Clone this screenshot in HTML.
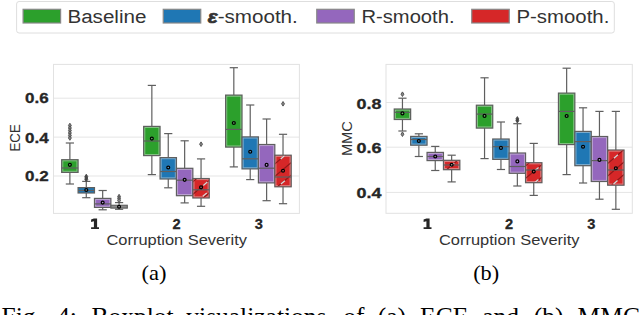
<!DOCTYPE html>
<html><head><meta charset="utf-8"><style>
html,body{margin:0;padding:0;background:#fff;width:640px;height:315px;overflow:hidden}
svg{display:block}
</style></head><body>
<svg width="640" height="315" viewBox="0 0 640 315">
<line x1="53.5" y1="98.2" x2="299.4" y2="98.2" stroke="#e5e5e5" stroke-width="1"/>
<line x1="53.5" y1="137.1" x2="299.4" y2="137.1" stroke="#e5e5e5" stroke-width="1"/>
<line x1="53.5" y1="176.0" x2="299.4" y2="176.0" stroke="#e5e5e5" stroke-width="1"/>
<rect x="53.5" y="64.4" width="245.89999999999998" height="149.0" fill="none" stroke="#e2e2e2" stroke-width="1"/>
<line x1="69.88" y1="143.0" x2="69.88" y2="159.7" stroke="#5f5f5f" stroke-width="1.2"/>
<line x1="69.88" y1="172.4" x2="69.88" y2="184.0" stroke="#5f5f5f" stroke-width="1.2"/>
<line x1="65.78" y1="143.0" x2="73.98" y2="143.0" stroke="#5f5f5f" stroke-width="1.2"/>
<line x1="65.78" y1="184.0" x2="73.98" y2="184.0" stroke="#5f5f5f" stroke-width="1.2"/>
<rect x="61.68" y="159.7" width="16.4" height="12.70" fill="#2ca02c" stroke="#5f5f5f" stroke-width="1.2"/>
<rect x="62.83" y="160.85" width="14.10" height="10.40" fill="none" stroke="#e8e8e8" stroke-opacity="0.5" stroke-width="0.9"/>
<line x1="61.68" y1="168.0" x2="78.08" y2="168.0" stroke="#5f5f5f" stroke-width="1.2"/>
<path d="M69.88 123.2 L71.33 125.5 L69.88 127.8 L68.43 125.5 Z" fill="#888" stroke="#4a4a4a" stroke-width="0.9"/>
<path d="M69.88 125.7 L71.33 128 L69.88 130.3 L68.43 128 Z" fill="#888" stroke="#4a4a4a" stroke-width="0.9"/>
<path d="M69.88 128.2 L71.33 130.5 L69.88 132.8 L68.43 130.5 Z" fill="#888" stroke="#4a4a4a" stroke-width="0.9"/>
<path d="M69.88 130.7 L71.33 133 L69.88 135.3 L68.43 133 Z" fill="#888" stroke="#4a4a4a" stroke-width="0.9"/>
<path d="M69.88 133.2 L71.33 135.5 L69.88 137.8 L68.43 135.5 Z" fill="#888" stroke="#4a4a4a" stroke-width="0.9"/>
<path d="M69.88 135.7 L71.33 138 L69.88 140.3 L68.43 138 Z" fill="#888" stroke="#4a4a4a" stroke-width="0.9"/>
<circle cx="69.88" cy="164.8" r="1.45" fill="#fff" fill-opacity="0.3" stroke="#000" stroke-width="1.25"/>
<line x1="86.28" y1="181.4" x2="86.28" y2="187.6" stroke="#5f5f5f" stroke-width="1.2"/>
<line x1="86.28" y1="193.0" x2="86.28" y2="197.7" stroke="#5f5f5f" stroke-width="1.2"/>
<line x1="82.18" y1="181.4" x2="90.38" y2="181.4" stroke="#5f5f5f" stroke-width="1.2"/>
<line x1="82.18" y1="197.7" x2="90.38" y2="197.7" stroke="#5f5f5f" stroke-width="1.2"/>
<rect x="78.08" y="187.6" width="16.4" height="5.40" fill="#1f77b4" stroke="#5f5f5f" stroke-width="1.2"/>
<line x1="78.08" y1="190.5" x2="94.48" y2="190.5" stroke="#5f5f5f" stroke-width="1.2"/>
<path d="M86.28 174.2 L87.73 176.5 L86.28 178.8 L84.83 176.5 Z" fill="#444" stroke="#4a4a4a" stroke-width="0.9"/>
<path d="M86.28 175.7 L87.73 178 L86.28 180.3 L84.83 178 Z" fill="#444" stroke="#4a4a4a" stroke-width="0.9"/>
<path d="M86.28 177.2 L87.73 179.5 L86.28 181.8 L84.83 179.5 Z" fill="#444" stroke="#4a4a4a" stroke-width="0.9"/>
<circle cx="86.28" cy="190.0" r="1.45" fill="#fff" fill-opacity="0.3" stroke="#000" stroke-width="1.25"/>
<line x1="102.68" y1="190.5" x2="102.68" y2="198.4" stroke="#5f5f5f" stroke-width="1.2"/>
<line x1="102.68" y1="207.4" x2="102.68" y2="209.8" stroke="#5f5f5f" stroke-width="1.2"/>
<line x1="98.58" y1="190.5" x2="106.78" y2="190.5" stroke="#5f5f5f" stroke-width="1.2"/>
<line x1="98.58" y1="209.8" x2="106.78" y2="209.8" stroke="#5f5f5f" stroke-width="1.2"/>
<rect x="94.48" y="198.4" width="16.4" height="9.00" fill="#9467bd" stroke="#5f5f5f" stroke-width="1.2"/>
<rect x="95.63" y="199.55" width="14.10" height="6.70" fill="none" stroke="#e8e8e8" stroke-opacity="0.5" stroke-width="0.9"/>
<line x1="94.48" y1="203.9" x2="110.88" y2="203.9" stroke="#5f5f5f" stroke-width="1.2"/>
<circle cx="102.68" cy="202.6" r="1.45" fill="#fff" fill-opacity="0.3" stroke="#000" stroke-width="1.25"/>
<line x1="119.08" y1="202.6" x2="119.08" y2="205.3" stroke="#5f5f5f" stroke-width="1.2"/>
<line x1="119.08" y1="208.1" x2="119.08" y2="209.3" stroke="#5f5f5f" stroke-width="1.2"/>
<line x1="114.98" y1="202.6" x2="123.18" y2="202.6" stroke="#5f5f5f" stroke-width="1.2"/>
<line x1="114.98" y1="209.3" x2="123.18" y2="209.3" stroke="#5f5f5f" stroke-width="1.2"/>
<rect x="110.88" y="205.3" width="16.4" height="2.80" fill="#d0d0d0" stroke="#5f5f5f" stroke-width="1.2"/>
<line x1="110.88" y1="207.0" x2="127.28" y2="207.0" stroke="#5f5f5f" stroke-width="1.2"/>
<path d="M119.08 194.29999999999998 L120.53 196.6 L119.08 198.9 L117.63 196.6 Z" fill="#888" stroke="#4a4a4a" stroke-width="0.9"/>
<path d="M119.08 196.2 L120.53 198.5 L119.08 200.8 L117.63 198.5 Z" fill="#888" stroke="#4a4a4a" stroke-width="0.9"/>
<path d="M119.08 198.2 L120.53 200.5 L119.08 202.8 L117.63 200.5 Z" fill="#888" stroke="#4a4a4a" stroke-width="0.9"/>
<circle cx="119.08" cy="206.7" r="1.45" fill="#fff" fill-opacity="0.3" stroke="#000" stroke-width="1.25"/>
<line x1="151.85" y1="85.4" x2="151.85" y2="126.4" stroke="#5f5f5f" stroke-width="1.2"/>
<line x1="151.85" y1="155.6" x2="151.85" y2="174.6" stroke="#5f5f5f" stroke-width="1.2"/>
<line x1="147.75" y1="85.4" x2="155.95" y2="85.4" stroke="#5f5f5f" stroke-width="1.2"/>
<line x1="147.75" y1="174.6" x2="155.95" y2="174.6" stroke="#5f5f5f" stroke-width="1.2"/>
<rect x="143.65" y="126.4" width="16.4" height="29.20" fill="#2ca02c" stroke="#5f5f5f" stroke-width="1.2"/>
<rect x="144.80" y="127.55" width="14.10" height="26.90" fill="none" stroke="#e8e8e8" stroke-opacity="0.5" stroke-width="0.9"/>
<line x1="143.65" y1="141.0" x2="160.05" y2="141.0" stroke="#5f5f5f" stroke-width="1.2"/>
<circle cx="151.85" cy="138.6" r="1.45" fill="#fff" fill-opacity="0.3" stroke="#000" stroke-width="1.25"/>
<line x1="168.25" y1="133.6" x2="168.25" y2="157.6" stroke="#5f5f5f" stroke-width="1.2"/>
<line x1="168.25" y1="179.0" x2="168.25" y2="187.8" stroke="#5f5f5f" stroke-width="1.2"/>
<line x1="164.15" y1="133.6" x2="172.35" y2="133.6" stroke="#5f5f5f" stroke-width="1.2"/>
<line x1="164.15" y1="187.8" x2="172.35" y2="187.8" stroke="#5f5f5f" stroke-width="1.2"/>
<rect x="160.05" y="157.6" width="16.4" height="21.40" fill="#1f77b4" stroke="#5f5f5f" stroke-width="1.2"/>
<rect x="161.20" y="158.75" width="14.10" height="19.10" fill="none" stroke="#e8e8e8" stroke-opacity="0.5" stroke-width="0.9"/>
<line x1="160.05" y1="171.5" x2="176.45" y2="171.5" stroke="#5f5f5f" stroke-width="1.2"/>
<circle cx="168.25" cy="167.5" r="1.45" fill="#fff" fill-opacity="0.3" stroke="#000" stroke-width="1.25"/>
<line x1="184.65" y1="140.8" x2="184.65" y2="168.3" stroke="#5f5f5f" stroke-width="1.2"/>
<line x1="184.65" y1="195.7" x2="184.65" y2="202.9" stroke="#5f5f5f" stroke-width="1.2"/>
<line x1="180.55" y1="140.8" x2="188.75" y2="140.8" stroke="#5f5f5f" stroke-width="1.2"/>
<line x1="180.55" y1="202.9" x2="188.75" y2="202.9" stroke="#5f5f5f" stroke-width="1.2"/>
<rect x="176.45" y="168.3" width="16.4" height="27.40" fill="#9467bd" stroke="#5f5f5f" stroke-width="1.2"/>
<rect x="177.60" y="169.45" width="14.10" height="25.10" fill="none" stroke="#e8e8e8" stroke-opacity="0.5" stroke-width="0.9"/>
<line x1="176.45" y1="180.2" x2="192.85" y2="180.2" stroke="#5f5f5f" stroke-width="1.2"/>
<circle cx="184.65" cy="179.8" r="1.45" fill="#fff" fill-opacity="0.3" stroke="#000" stroke-width="1.25"/>
<line x1="201.05" y1="158.9" x2="201.05" y2="178.5" stroke="#5f5f5f" stroke-width="1.2"/>
<line x1="201.05" y1="198.0" x2="201.05" y2="206.3" stroke="#5f5f5f" stroke-width="1.2"/>
<line x1="196.95" y1="158.9" x2="205.15" y2="158.9" stroke="#5f5f5f" stroke-width="1.2"/>
<line x1="196.95" y1="206.3" x2="205.15" y2="206.3" stroke="#5f5f5f" stroke-width="1.2"/>
<rect x="192.85" y="178.5" width="16.4" height="19.50" fill="#d62728" stroke="#5f5f5f" stroke-width="1.2"/>
<rect x="194.00" y="179.65" width="14.10" height="17.20" fill="none" stroke="#e8e8e8" stroke-opacity="0.5" stroke-width="0.9"/>
<clipPath id="c53_2"><rect x="193.45" y="179.10" width="15.20" height="18.30"/></clipPath>
<g clip-path="url(#c53_2)">
<line x1="190.85" y1="120.98" x2="211.25" y2="103.64" stroke="#8e1819" stroke-width="1.15"/>
<line x1="190.85" y1="133.48" x2="211.25" y2="116.14" stroke="#8e1819" stroke-width="1.15"/>
<line x1="190.85" y1="145.98" x2="211.25" y2="128.64" stroke="#8e1819" stroke-width="1.15"/>
<line x1="190.85" y1="158.48" x2="211.25" y2="141.14" stroke="#8e1819" stroke-width="1.15"/>
<line x1="190.85" y1="170.98" x2="211.25" y2="153.64" stroke="#8e1819" stroke-width="1.15"/>
<line x1="190.85" y1="183.48" x2="211.25" y2="166.14" stroke="#8e1819" stroke-width="1.15"/>
<line x1="190.85" y1="195.98" x2="211.25" y2="178.64" stroke="#8e1819" stroke-width="1.15"/>
<line x1="190.85" y1="208.48" x2="211.25" y2="191.14" stroke="#8e1819" stroke-width="1.15"/>
<line x1="190.85" y1="220.98" x2="211.25" y2="203.64" stroke="#8e1819" stroke-width="1.15"/>
<line x1="190.85" y1="233.48" x2="211.25" y2="216.14" stroke="#8e1819" stroke-width="1.15"/>
<line x1="190.85" y1="245.98" x2="211.25" y2="228.64" stroke="#8e1819" stroke-width="1.15"/>
<line x1="190.85" y1="258.48" x2="211.25" y2="241.14" stroke="#8e1819" stroke-width="1.15"/>
<line x1="203.30" y1="185.40" x2="207.30" y2="182.00" stroke="#d8d8d8" stroke-width="1.3"/>
<line x1="202.80" y1="196.30" x2="206.80" y2="192.90" stroke="#d8d8d8" stroke-width="1.3"/>
</g>
<line x1="192.85" y1="189.8" x2="209.25" y2="189.8" stroke="#5f5f5f" stroke-width="1.2"/>
<path d="M201.05 141.89999999999998 L202.50 144.2 L201.05 146.5 L199.60 144.2 Z" fill="#888" stroke="#4a4a4a" stroke-width="0.9"/>
<circle cx="201.05" cy="187.3" r="1.45" fill="#fff" fill-opacity="0.3" stroke="#000" stroke-width="1.25"/>
<line x1="233.82" y1="67.7" x2="233.82" y2="95.1" stroke="#5f5f5f" stroke-width="1.2"/>
<line x1="233.82" y1="147.1" x2="233.82" y2="166.9" stroke="#5f5f5f" stroke-width="1.2"/>
<line x1="229.72" y1="67.7" x2="237.92" y2="67.7" stroke="#5f5f5f" stroke-width="1.2"/>
<line x1="229.72" y1="166.9" x2="237.92" y2="166.9" stroke="#5f5f5f" stroke-width="1.2"/>
<rect x="225.62" y="95.1" width="16.4" height="52.00" fill="#2ca02c" stroke="#5f5f5f" stroke-width="1.2"/>
<rect x="226.77" y="96.25" width="14.10" height="49.70" fill="none" stroke="#e8e8e8" stroke-opacity="0.5" stroke-width="0.9"/>
<line x1="225.62" y1="129.4" x2="242.02" y2="129.4" stroke="#5f5f5f" stroke-width="1.2"/>
<circle cx="233.82" cy="123.0" r="1.45" fill="#fff" fill-opacity="0.3" stroke="#000" stroke-width="1.25"/>
<line x1="250.22" y1="105.0" x2="250.22" y2="136.9" stroke="#5f5f5f" stroke-width="1.2"/>
<line x1="250.22" y1="168.9" x2="250.22" y2="179.6" stroke="#5f5f5f" stroke-width="1.2"/>
<line x1="246.12" y1="105.0" x2="254.32" y2="105.0" stroke="#5f5f5f" stroke-width="1.2"/>
<line x1="246.12" y1="179.6" x2="254.32" y2="179.6" stroke="#5f5f5f" stroke-width="1.2"/>
<rect x="242.02" y="136.9" width="16.4" height="32.00" fill="#1f77b4" stroke="#5f5f5f" stroke-width="1.2"/>
<rect x="243.17" y="138.05" width="14.10" height="29.70" fill="none" stroke="#e8e8e8" stroke-opacity="0.5" stroke-width="0.9"/>
<line x1="242.02" y1="158.8" x2="258.42" y2="158.8" stroke="#5f5f5f" stroke-width="1.2"/>
<circle cx="250.22" cy="151.7" r="1.45" fill="#fff" fill-opacity="0.3" stroke="#000" stroke-width="1.25"/>
<line x1="266.62" y1="119.0" x2="266.62" y2="144.5" stroke="#5f5f5f" stroke-width="1.2"/>
<line x1="266.62" y1="182.9" x2="266.62" y2="200.7" stroke="#5f5f5f" stroke-width="1.2"/>
<line x1="262.52" y1="119.0" x2="270.72" y2="119.0" stroke="#5f5f5f" stroke-width="1.2"/>
<line x1="262.52" y1="200.7" x2="270.72" y2="200.7" stroke="#5f5f5f" stroke-width="1.2"/>
<rect x="258.42" y="144.5" width="16.4" height="38.40" fill="#9467bd" stroke="#5f5f5f" stroke-width="1.2"/>
<rect x="259.57" y="145.65" width="14.10" height="36.10" fill="none" stroke="#e8e8e8" stroke-opacity="0.5" stroke-width="0.9"/>
<line x1="258.42" y1="168.2" x2="274.82" y2="168.2" stroke="#5f5f5f" stroke-width="1.2"/>
<circle cx="266.62" cy="164.9" r="1.45" fill="#fff" fill-opacity="0.3" stroke="#000" stroke-width="1.25"/>
<line x1="283.02" y1="134.3" x2="283.02" y2="155.2" stroke="#5f5f5f" stroke-width="1.2"/>
<line x1="283.02" y1="186.8" x2="283.02" y2="203.7" stroke="#5f5f5f" stroke-width="1.2"/>
<line x1="278.92" y1="134.3" x2="287.12" y2="134.3" stroke="#5f5f5f" stroke-width="1.2"/>
<line x1="278.92" y1="203.7" x2="287.12" y2="203.7" stroke="#5f5f5f" stroke-width="1.2"/>
<rect x="274.82" y="155.2" width="16.4" height="31.60" fill="#d62728" stroke="#5f5f5f" stroke-width="1.2"/>
<rect x="275.97" y="156.35" width="14.10" height="29.30" fill="none" stroke="#e8e8e8" stroke-opacity="0.5" stroke-width="0.9"/>
<clipPath id="c53_3"><rect x="275.42" y="155.80" width="15.20" height="30.40"/></clipPath>
<g clip-path="url(#c53_3)">
<line x1="272.82" y1="90.60" x2="293.22" y2="73.26" stroke="#8e1819" stroke-width="1.15"/>
<line x1="272.82" y1="103.10" x2="293.22" y2="85.76" stroke="#8e1819" stroke-width="1.15"/>
<line x1="272.82" y1="115.60" x2="293.22" y2="98.26" stroke="#8e1819" stroke-width="1.15"/>
<line x1="272.82" y1="128.10" x2="293.22" y2="110.76" stroke="#8e1819" stroke-width="1.15"/>
<line x1="272.82" y1="140.60" x2="293.22" y2="123.26" stroke="#8e1819" stroke-width="1.15"/>
<line x1="272.82" y1="153.10" x2="293.22" y2="135.76" stroke="#8e1819" stroke-width="1.15"/>
<line x1="272.82" y1="165.60" x2="293.22" y2="148.26" stroke="#8e1819" stroke-width="1.15"/>
<line x1="272.82" y1="178.10" x2="293.22" y2="160.76" stroke="#8e1819" stroke-width="1.15"/>
<line x1="272.82" y1="190.60" x2="293.22" y2="173.26" stroke="#8e1819" stroke-width="1.15"/>
<line x1="272.82" y1="203.10" x2="293.22" y2="185.76" stroke="#8e1819" stroke-width="1.15"/>
<line x1="272.82" y1="215.60" x2="293.22" y2="198.26" stroke="#8e1819" stroke-width="1.15"/>
<line x1="272.82" y1="228.10" x2="293.22" y2="210.76" stroke="#8e1819" stroke-width="1.15"/>
<line x1="280.70" y1="158.90" x2="284.70" y2="155.50" stroke="#d8d8d8" stroke-width="1.3"/>
<line x1="280.90" y1="184.10" x2="284.90" y2="180.70" stroke="#d8d8d8" stroke-width="1.3"/>
</g>
<line x1="274.82" y1="177.0" x2="291.22" y2="177.0" stroke="#5f5f5f" stroke-width="1.2"/>
<path d="M283.02 101.5 L284.47 103.8 L283.02 106.1 L281.57 103.8 Z" fill="#888" stroke="#4a4a4a" stroke-width="0.9"/>
<circle cx="283.02" cy="170.7" r="1.45" fill="#fff" fill-opacity="0.3" stroke="#000" stroke-width="1.25"/>
<line x1="386.0" y1="102.5" x2="632.3" y2="102.5" stroke="#e5e5e5" stroke-width="1"/>
<line x1="386.0" y1="147.2" x2="632.3" y2="147.2" stroke="#e5e5e5" stroke-width="1"/>
<line x1="386.0" y1="192.4" x2="632.3" y2="192.4" stroke="#e5e5e5" stroke-width="1"/>
<rect x="386.0" y="64.4" width="246.29999999999995" height="148.9" fill="none" stroke="#e2e2e2" stroke-width="1"/>
<line x1="402.45" y1="98.2" x2="402.45" y2="109.0" stroke="#5f5f5f" stroke-width="1.2"/>
<line x1="402.45" y1="119.5" x2="402.45" y2="131.0" stroke="#5f5f5f" stroke-width="1.2"/>
<line x1="398.35" y1="98.2" x2="406.55" y2="98.2" stroke="#5f5f5f" stroke-width="1.2"/>
<line x1="398.35" y1="131.0" x2="406.55" y2="131.0" stroke="#5f5f5f" stroke-width="1.2"/>
<rect x="394.25" y="109.0" width="16.4" height="10.50" fill="#2ca02c" stroke="#5f5f5f" stroke-width="1.2"/>
<rect x="395.40" y="110.15" width="14.10" height="8.20" fill="none" stroke="#e8e8e8" stroke-opacity="0.5" stroke-width="0.9"/>
<line x1="394.25" y1="112.3" x2="410.65" y2="112.3" stroke="#5f5f5f" stroke-width="1.2"/>
<path d="M402.45 91.9 L403.90 94.2 L402.45 96.5 L401.00 94.2 Z" fill="#888" stroke="#4a4a4a" stroke-width="0.9"/>
<path d="M402.45 131.89999999999998 L403.90 134.2 L402.45 136.5 L401.00 134.2 Z" fill="#888" stroke="#4a4a4a" stroke-width="0.9"/>
<circle cx="402.45" cy="113.4" r="1.45" fill="#fff" fill-opacity="0.3" stroke="#000" stroke-width="1.25"/>
<line x1="418.85" y1="133.8" x2="418.85" y2="136.4" stroke="#5f5f5f" stroke-width="1.2"/>
<line x1="418.85" y1="145.2" x2="418.85" y2="156.5" stroke="#5f5f5f" stroke-width="1.2"/>
<line x1="414.75" y1="133.8" x2="422.95" y2="133.8" stroke="#5f5f5f" stroke-width="1.2"/>
<line x1="414.75" y1="156.5" x2="422.95" y2="156.5" stroke="#5f5f5f" stroke-width="1.2"/>
<rect x="410.65" y="136.4" width="16.4" height="8.80" fill="#1f77b4" stroke="#5f5f5f" stroke-width="1.2"/>
<rect x="411.80" y="137.55" width="14.10" height="6.50" fill="none" stroke="#e8e8e8" stroke-opacity="0.5" stroke-width="0.9"/>
<line x1="410.65" y1="139.5" x2="427.05" y2="139.5" stroke="#5f5f5f" stroke-width="1.2"/>
<circle cx="418.85" cy="141.0" r="1.45" fill="#fff" fill-opacity="0.3" stroke="#000" stroke-width="1.25"/>
<line x1="435.25" y1="146.4" x2="435.25" y2="152.4" stroke="#5f5f5f" stroke-width="1.2"/>
<line x1="435.25" y1="160.6" x2="435.25" y2="170.5" stroke="#5f5f5f" stroke-width="1.2"/>
<line x1="431.15" y1="146.4" x2="439.35" y2="146.4" stroke="#5f5f5f" stroke-width="1.2"/>
<line x1="431.15" y1="170.5" x2="439.35" y2="170.5" stroke="#5f5f5f" stroke-width="1.2"/>
<rect x="427.05" y="152.4" width="16.4" height="8.20" fill="#9467bd" stroke="#5f5f5f" stroke-width="1.2"/>
<rect x="428.20" y="153.55" width="14.10" height="5.90" fill="none" stroke="#e8e8e8" stroke-opacity="0.5" stroke-width="0.9"/>
<line x1="427.05" y1="156.5" x2="443.45" y2="156.5" stroke="#5f5f5f" stroke-width="1.2"/>
<circle cx="435.25" cy="156.5" r="1.45" fill="#fff" fill-opacity="0.3" stroke="#000" stroke-width="1.25"/>
<line x1="451.65" y1="155.2" x2="451.65" y2="160.3" stroke="#5f5f5f" stroke-width="1.2"/>
<line x1="451.65" y1="169.7" x2="451.65" y2="181.9" stroke="#5f5f5f" stroke-width="1.2"/>
<line x1="447.55" y1="155.2" x2="455.75" y2="155.2" stroke="#5f5f5f" stroke-width="1.2"/>
<line x1="447.55" y1="181.9" x2="455.75" y2="181.9" stroke="#5f5f5f" stroke-width="1.2"/>
<rect x="443.45" y="160.3" width="16.4" height="9.40" fill="#d62728" stroke="#5f5f5f" stroke-width="1.2"/>
<rect x="444.60" y="161.45" width="14.10" height="7.10" fill="none" stroke="#e8e8e8" stroke-opacity="0.5" stroke-width="0.9"/>
<clipPath id="c386_1"><rect x="444.05" y="160.90" width="15.20" height="8.20"/></clipPath>
<g clip-path="url(#c386_1)">
<line x1="441.45" y1="99.02" x2="461.85" y2="81.68" stroke="#8e1819" stroke-width="1.15"/>
<line x1="441.45" y1="111.52" x2="461.85" y2="94.18" stroke="#8e1819" stroke-width="1.15"/>
<line x1="441.45" y1="124.02" x2="461.85" y2="106.68" stroke="#8e1819" stroke-width="1.15"/>
<line x1="441.45" y1="136.52" x2="461.85" y2="119.18" stroke="#8e1819" stroke-width="1.15"/>
<line x1="441.45" y1="149.02" x2="461.85" y2="131.68" stroke="#8e1819" stroke-width="1.15"/>
<line x1="441.45" y1="161.52" x2="461.85" y2="144.18" stroke="#8e1819" stroke-width="1.15"/>
<line x1="441.45" y1="174.02" x2="461.85" y2="156.68" stroke="#8e1819" stroke-width="1.15"/>
<line x1="441.45" y1="186.52" x2="461.85" y2="169.18" stroke="#8e1819" stroke-width="1.15"/>
<line x1="441.45" y1="199.02" x2="461.85" y2="181.68" stroke="#8e1819" stroke-width="1.15"/>
<line x1="441.45" y1="211.52" x2="461.85" y2="194.18" stroke="#8e1819" stroke-width="1.15"/>
<line x1="441.45" y1="224.02" x2="461.85" y2="206.68" stroke="#8e1819" stroke-width="1.15"/>
<line x1="441.45" y1="236.52" x2="461.85" y2="219.18" stroke="#8e1819" stroke-width="1.15"/>
<line x1="450.30" y1="166.50" x2="454.30" y2="163.10" stroke="#d8d8d8" stroke-width="1.3"/>
</g>
<line x1="443.45" y1="165.0" x2="459.85" y2="165.0" stroke="#5f5f5f" stroke-width="1.2"/>
<circle cx="451.65" cy="164.7" r="1.45" fill="#fff" fill-opacity="0.3" stroke="#000" stroke-width="1.25"/>
<line x1="484.55" y1="77.8" x2="484.55" y2="105.2" stroke="#5f5f5f" stroke-width="1.2"/>
<line x1="484.55" y1="128.1" x2="484.55" y2="158.6" stroke="#5f5f5f" stroke-width="1.2"/>
<line x1="480.45" y1="77.8" x2="488.65" y2="77.8" stroke="#5f5f5f" stroke-width="1.2"/>
<line x1="480.45" y1="158.6" x2="488.65" y2="158.6" stroke="#5f5f5f" stroke-width="1.2"/>
<rect x="476.35" y="105.2" width="16.4" height="22.90" fill="#2ca02c" stroke="#5f5f5f" stroke-width="1.2"/>
<rect x="477.50" y="106.35" width="14.10" height="20.60" fill="none" stroke="#e8e8e8" stroke-opacity="0.5" stroke-width="0.9"/>
<line x1="476.35" y1="114.1" x2="492.75" y2="114.1" stroke="#5f5f5f" stroke-width="1.2"/>
<circle cx="484.55" cy="115.9" r="1.45" fill="#fff" fill-opacity="0.3" stroke="#000" stroke-width="1.25"/>
<line x1="500.95" y1="122.0" x2="500.95" y2="139.0" stroke="#5f5f5f" stroke-width="1.2"/>
<line x1="500.95" y1="159.4" x2="500.95" y2="169.5" stroke="#5f5f5f" stroke-width="1.2"/>
<line x1="496.85" y1="122.0" x2="505.05" y2="122.0" stroke="#5f5f5f" stroke-width="1.2"/>
<line x1="496.85" y1="169.5" x2="505.05" y2="169.5" stroke="#5f5f5f" stroke-width="1.2"/>
<rect x="492.75" y="139.0" width="16.4" height="20.40" fill="#1f77b4" stroke="#5f5f5f" stroke-width="1.2"/>
<rect x="493.90" y="140.15" width="14.10" height="18.10" fill="none" stroke="#e8e8e8" stroke-opacity="0.5" stroke-width="0.9"/>
<line x1="492.75" y1="146.7" x2="509.15" y2="146.7" stroke="#5f5f5f" stroke-width="1.2"/>
<circle cx="500.95" cy="147.9" r="1.45" fill="#fff" fill-opacity="0.3" stroke="#000" stroke-width="1.25"/>
<line x1="517.35" y1="123.7" x2="517.35" y2="153.0" stroke="#5f5f5f" stroke-width="1.2"/>
<line x1="517.35" y1="173.3" x2="517.35" y2="186.0" stroke="#5f5f5f" stroke-width="1.2"/>
<line x1="513.25" y1="123.7" x2="521.45" y2="123.7" stroke="#5f5f5f" stroke-width="1.2"/>
<line x1="513.25" y1="186.0" x2="521.45" y2="186.0" stroke="#5f5f5f" stroke-width="1.2"/>
<rect x="509.15" y="153.0" width="16.4" height="20.30" fill="#9467bd" stroke="#5f5f5f" stroke-width="1.2"/>
<rect x="510.30" y="154.15" width="14.10" height="18.00" fill="none" stroke="#e8e8e8" stroke-opacity="0.5" stroke-width="0.9"/>
<line x1="509.15" y1="166.5" x2="525.55" y2="166.5" stroke="#5f5f5f" stroke-width="1.2"/>
<path d="M517.35 116.60000000000001 L518.80 118.9 L517.35 121.2 L515.90 118.9 Z" fill="#444" stroke="#4a4a4a" stroke-width="0.9"/>
<path d="M517.35 118.4 L518.80 120.7 L517.35 123.0 L515.90 120.7 Z" fill="#444" stroke="#4a4a4a" stroke-width="0.9"/>
<circle cx="517.35" cy="161.4" r="1.45" fill="#fff" fill-opacity="0.3" stroke="#000" stroke-width="1.25"/>
<line x1="533.75" y1="143.4" x2="533.75" y2="162.7" stroke="#5f5f5f" stroke-width="1.2"/>
<line x1="533.75" y1="182.7" x2="533.75" y2="195.4" stroke="#5f5f5f" stroke-width="1.2"/>
<line x1="529.65" y1="143.4" x2="537.85" y2="143.4" stroke="#5f5f5f" stroke-width="1.2"/>
<line x1="529.65" y1="195.4" x2="537.85" y2="195.4" stroke="#5f5f5f" stroke-width="1.2"/>
<rect x="525.55" y="162.7" width="16.4" height="20.00" fill="#d62728" stroke="#5f5f5f" stroke-width="1.2"/>
<rect x="526.70" y="163.85" width="14.10" height="17.70" fill="none" stroke="#e8e8e8" stroke-opacity="0.5" stroke-width="0.9"/>
<clipPath id="c386_2"><rect x="526.15" y="163.30" width="15.20" height="18.80"/></clipPath>
<g clip-path="url(#c386_2)">
<line x1="523.55" y1="105.19" x2="543.95" y2="87.85" stroke="#8e1819" stroke-width="1.15"/>
<line x1="523.55" y1="117.69" x2="543.95" y2="100.35" stroke="#8e1819" stroke-width="1.15"/>
<line x1="523.55" y1="130.19" x2="543.95" y2="112.85" stroke="#8e1819" stroke-width="1.15"/>
<line x1="523.55" y1="142.69" x2="543.95" y2="125.35" stroke="#8e1819" stroke-width="1.15"/>
<line x1="523.55" y1="155.19" x2="543.95" y2="137.85" stroke="#8e1819" stroke-width="1.15"/>
<line x1="523.55" y1="167.69" x2="543.95" y2="150.35" stroke="#8e1819" stroke-width="1.15"/>
<line x1="523.55" y1="180.19" x2="543.95" y2="162.85" stroke="#8e1819" stroke-width="1.15"/>
<line x1="523.55" y1="192.69" x2="543.95" y2="175.35" stroke="#8e1819" stroke-width="1.15"/>
<line x1="523.55" y1="205.19" x2="543.95" y2="187.85" stroke="#8e1819" stroke-width="1.15"/>
<line x1="523.55" y1="217.69" x2="543.95" y2="200.35" stroke="#8e1819" stroke-width="1.15"/>
<line x1="523.55" y1="230.19" x2="543.95" y2="212.85" stroke="#8e1819" stroke-width="1.15"/>
<line x1="523.55" y1="242.69" x2="543.95" y2="225.35" stroke="#8e1819" stroke-width="1.15"/>
<line x1="534.60" y1="170.80" x2="538.60" y2="167.40" stroke="#d8d8d8" stroke-width="1.3"/>
<line x1="534.40" y1="183.00" x2="538.40" y2="179.60" stroke="#d8d8d8" stroke-width="1.3"/>
</g>
<line x1="525.55" y1="170.0" x2="541.95" y2="170.0" stroke="#5f5f5f" stroke-width="1.2"/>
<circle cx="533.75" cy="171.6" r="1.45" fill="#fff" fill-opacity="0.3" stroke="#000" stroke-width="1.25"/>
<line x1="566.65" y1="68.2" x2="566.65" y2="93.1" stroke="#5f5f5f" stroke-width="1.2"/>
<line x1="566.65" y1="144.6" x2="566.65" y2="174.6" stroke="#5f5f5f" stroke-width="1.2"/>
<line x1="562.55" y1="68.2" x2="570.75" y2="68.2" stroke="#5f5f5f" stroke-width="1.2"/>
<line x1="562.55" y1="174.6" x2="570.75" y2="174.6" stroke="#5f5f5f" stroke-width="1.2"/>
<rect x="558.45" y="93.1" width="16.4" height="51.50" fill="#2ca02c" stroke="#5f5f5f" stroke-width="1.2"/>
<rect x="559.60" y="94.25" width="14.10" height="49.20" fill="none" stroke="#e8e8e8" stroke-opacity="0.5" stroke-width="0.9"/>
<line x1="558.45" y1="111.4" x2="574.85" y2="111.4" stroke="#5f5f5f" stroke-width="1.2"/>
<circle cx="566.65" cy="116.0" r="1.45" fill="#fff" fill-opacity="0.3" stroke="#000" stroke-width="1.25"/>
<line x1="583.05" y1="107.8" x2="583.05" y2="131.4" stroke="#5f5f5f" stroke-width="1.2"/>
<line x1="583.05" y1="165.7" x2="583.05" y2="183.0" stroke="#5f5f5f" stroke-width="1.2"/>
<line x1="578.95" y1="107.8" x2="587.15" y2="107.8" stroke="#5f5f5f" stroke-width="1.2"/>
<line x1="578.95" y1="183.0" x2="587.15" y2="183.0" stroke="#5f5f5f" stroke-width="1.2"/>
<rect x="574.85" y="131.4" width="16.4" height="34.30" fill="#1f77b4" stroke="#5f5f5f" stroke-width="1.2"/>
<rect x="576.00" y="132.55" width="14.10" height="32.00" fill="none" stroke="#e8e8e8" stroke-opacity="0.5" stroke-width="0.9"/>
<line x1="574.85" y1="141.6" x2="591.25" y2="141.6" stroke="#5f5f5f" stroke-width="1.2"/>
<circle cx="583.05" cy="146.7" r="1.45" fill="#fff" fill-opacity="0.3" stroke="#000" stroke-width="1.25"/>
<line x1="599.45" y1="111.4" x2="599.45" y2="136.5" stroke="#5f5f5f" stroke-width="1.2"/>
<line x1="599.45" y1="181.5" x2="599.45" y2="199.2" stroke="#5f5f5f" stroke-width="1.2"/>
<line x1="595.35" y1="111.4" x2="603.55" y2="111.4" stroke="#5f5f5f" stroke-width="1.2"/>
<line x1="595.35" y1="199.2" x2="603.55" y2="199.2" stroke="#5f5f5f" stroke-width="1.2"/>
<rect x="591.25" y="136.5" width="16.4" height="45.00" fill="#9467bd" stroke="#5f5f5f" stroke-width="1.2"/>
<rect x="592.40" y="137.65" width="14.10" height="42.70" fill="none" stroke="#e8e8e8" stroke-opacity="0.5" stroke-width="0.9"/>
<line x1="591.25" y1="160.6" x2="607.65" y2="160.6" stroke="#5f5f5f" stroke-width="1.2"/>
<circle cx="599.45" cy="159.9" r="1.45" fill="#fff" fill-opacity="0.3" stroke="#000" stroke-width="1.25"/>
<line x1="615.85" y1="111.4" x2="615.85" y2="150.0" stroke="#5f5f5f" stroke-width="1.2"/>
<line x1="615.85" y1="185.2" x2="615.85" y2="209.3" stroke="#5f5f5f" stroke-width="1.2"/>
<line x1="611.75" y1="111.4" x2="619.95" y2="111.4" stroke="#5f5f5f" stroke-width="1.2"/>
<line x1="611.75" y1="209.3" x2="619.95" y2="209.3" stroke="#5f5f5f" stroke-width="1.2"/>
<rect x="607.65" y="150.0" width="16.4" height="35.20" fill="#d62728" stroke="#5f5f5f" stroke-width="1.2"/>
<rect x="608.80" y="151.15" width="14.10" height="32.90" fill="none" stroke="#e8e8e8" stroke-opacity="0.5" stroke-width="0.9"/>
<clipPath id="c386_3"><rect x="608.25" y="150.60" width="15.20" height="34.00"/></clipPath>
<g clip-path="url(#c386_3)">
<line x1="605.65" y1="90.21" x2="626.05" y2="72.87" stroke="#8e1819" stroke-width="1.15"/>
<line x1="605.65" y1="102.71" x2="626.05" y2="85.37" stroke="#8e1819" stroke-width="1.15"/>
<line x1="605.65" y1="115.21" x2="626.05" y2="97.87" stroke="#8e1819" stroke-width="1.15"/>
<line x1="605.65" y1="127.71" x2="626.05" y2="110.37" stroke="#8e1819" stroke-width="1.15"/>
<line x1="605.65" y1="140.21" x2="626.05" y2="122.87" stroke="#8e1819" stroke-width="1.15"/>
<line x1="605.65" y1="152.71" x2="626.05" y2="135.37" stroke="#8e1819" stroke-width="1.15"/>
<line x1="605.65" y1="165.21" x2="626.05" y2="147.87" stroke="#8e1819" stroke-width="1.15"/>
<line x1="605.65" y1="177.71" x2="626.05" y2="160.37" stroke="#8e1819" stroke-width="1.15"/>
<line x1="605.65" y1="190.21" x2="626.05" y2="172.87" stroke="#8e1819" stroke-width="1.15"/>
<line x1="605.65" y1="202.71" x2="626.05" y2="185.37" stroke="#8e1819" stroke-width="1.15"/>
<line x1="605.65" y1="215.21" x2="626.05" y2="197.87" stroke="#8e1819" stroke-width="1.15"/>
<line x1="605.65" y1="227.71" x2="626.05" y2="210.37" stroke="#8e1819" stroke-width="1.15"/>
<line x1="613.90" y1="158.20" x2="617.90" y2="154.80" stroke="#d8d8d8" stroke-width="1.3"/>
<line x1="613.50" y1="184.00" x2="617.50" y2="180.60" stroke="#d8d8d8" stroke-width="1.3"/>
</g>
<line x1="607.65" y1="170.0" x2="624.05" y2="170.0" stroke="#5f5f5f" stroke-width="1.2"/>
<circle cx="615.85" cy="168.2" r="1.45" fill="#fff" fill-opacity="0.3" stroke="#000" stroke-width="1.25"/>
<text x="25.0" y="102.6" font-family="Liberation Sans" font-size="14.2" font-weight="bold" fill="#262626" textLength="23.6" lengthAdjust="spacingAndGlyphs" stroke="#262626" stroke-width="0.3">0.6</text>
<text x="25.0" y="142.7" font-family="Liberation Sans" font-size="14.2" font-weight="bold" fill="#262626" textLength="23.6" lengthAdjust="spacingAndGlyphs" stroke="#262626" stroke-width="0.3">0.4</text>
<text x="25.0" y="180.9" font-family="Liberation Sans" font-size="14.2" font-weight="bold" fill="#262626" textLength="23.6" lengthAdjust="spacingAndGlyphs" stroke="#262626" stroke-width="0.3">0.2</text>
<text x="356.5" y="108.7" font-family="Liberation Sans" font-size="14.2" font-weight="bold" fill="#262626" textLength="24.9" lengthAdjust="spacingAndGlyphs" stroke="#262626" stroke-width="0.3">0.8</text>
<text x="356.5" y="152.8" font-family="Liberation Sans" font-size="14.2" font-weight="bold" fill="#262626" textLength="24.9" lengthAdjust="spacingAndGlyphs" stroke="#262626" stroke-width="0.3">0.6</text>
<text x="356.5" y="197.8" font-family="Liberation Sans" font-size="14.2" font-weight="bold" fill="#262626" textLength="24.9" lengthAdjust="spacingAndGlyphs" stroke="#262626" stroke-width="0.3">0.4</text>
<path d="M93.90 218.5 L97.10 218.5 L97.10 227.2 L99.00 227.2 L99.00 228.9 L91.10 228.9 L91.10 227.2 L93.90 227.2 L93.90 221.2 L91.10 221.9 L91.10 219.6 Z" fill="#262626"/>
<text x="176.5" y="228.9" font-family="Liberation Sans" font-size="14.6" font-weight="bold" fill="#262626" text-anchor="middle" stroke="#262626" stroke-width="0.3">2</text>
<text x="258.9" y="228.9" font-family="Liberation Sans" font-size="14.6" font-weight="bold" fill="#262626" text-anchor="middle" stroke="#262626" stroke-width="0.3">3</text>
<text x="106.5" y="245.0" font-family="Liberation Sans" font-size="14.0" font-weight="normal" fill="#333" textLength="140.5" lengthAdjust="spacingAndGlyphs" >Corruption Severity</text>
<path d="M426.40 218.5 L429.60 218.5 L429.60 227.2 L431.50 227.2 L431.50 228.9 L423.60 228.9 L423.60 227.2 L426.40 227.2 L426.40 221.2 L423.60 221.9 L423.60 219.6 Z" fill="#262626"/>
<text x="509.0" y="228.9" font-family="Liberation Sans" font-size="14.6" font-weight="bold" fill="#262626" text-anchor="middle" stroke="#262626" stroke-width="0.3">2</text>
<text x="591.4" y="228.9" font-family="Liberation Sans" font-size="14.6" font-weight="bold" fill="#262626" text-anchor="middle" stroke="#262626" stroke-width="0.3">3</text>
<text x="439.0" y="245.0" font-family="Liberation Sans" font-size="14.0" font-weight="normal" fill="#333" textLength="140.5" lengthAdjust="spacingAndGlyphs" >Corruption Severity</text>
<text x="0" y="0" font-family="Liberation Sans" font-size="14.6" font-weight="normal" fill="#333" textLength="27.4" lengthAdjust="spacingAndGlyphs" transform="translate(19.5,151.6) rotate(-90)">ECE</text>
<text x="0" y="0" font-family="Liberation Sans" font-size="14.6" font-weight="normal" fill="#333" textLength="35.0" lengthAdjust="spacingAndGlyphs" transform="translate(352.4,156.1) rotate(-90)">MMC</text>
<text x="141.6" y="280.3" font-family="Liberation Serif" font-size="21" font-weight="normal" fill="#000" textLength="25.0" lengthAdjust="spacingAndGlyphs" >(a)</text>
<text x="473.2" y="280.3" font-family="Liberation Serif" font-size="21" font-weight="normal" fill="#000" textLength="26.0" lengthAdjust="spacingAndGlyphs" >(b)</text>
<rect x="16.6" y="1.5" width="597.7" height="31.5" rx="2.5" fill="#fff" stroke="#dedede" stroke-width="1"/>
<rect x="23.1" y="9.3" width="37.5" height="13.7" fill="#2ca02c" stroke="#888" stroke-width="1.2"/>
<text x="67.4" y="23" font-family="Liberation Sans" font-size="18" font-weight="normal" fill="#333" textLength="79" lengthAdjust="spacingAndGlyphs" >Baseline</text>
<rect x="163.25" y="9.3" width="37.5" height="13.7" fill="#1f77b4" stroke="#888" stroke-width="1.2"/>
<text x="207.8" y="23" font-family="Liberation Sans" font-size="18" fill="#333" textLength="90" lengthAdjust="spacingAndGlyphs"><tspan font-weight="bold" font-style="italic" stroke="#333" stroke-width="0.7">ε</tspan>-smooth.</text>
<rect x="316.75" y="9.3" width="37.5" height="13.7" fill="#9467bd" stroke="#888" stroke-width="1.2"/>
<text x="361.5" y="23" font-family="Liberation Sans" font-size="18" font-weight="normal" fill="#333" textLength="93" lengthAdjust="spacingAndGlyphs" >R-smooth.</text>
<rect x="471.75" y="9.3" width="37.5" height="13.7" fill="#d62728" stroke="#888" stroke-width="1.2"/>
<text x="516.5" y="23" font-family="Liberation Sans" font-size="18" font-weight="normal" fill="#333" textLength="92.8" lengthAdjust="spacingAndGlyphs" >P-smooth.</text>
<text x="1.6" y="325.3" font-family="Liberation Serif" font-size="25.5" fill="#000">Fig.</text>
<text x="57.1" y="325.3" font-family="Liberation Serif" font-size="25.5" fill="#000">4:</text>
<text x="91.4" y="325.3" font-family="Liberation Serif" font-size="25.5" fill="#000">Boxplot</text>
<text x="186.3" y="325.3" font-family="Liberation Serif" font-size="25.5" fill="#000">visualizations</text>
<text x="343.3" y="325.3" font-family="Liberation Serif" font-size="25.5" fill="#000">of</text>
<text x="377.7" y="325.3" font-family="Liberation Serif" font-size="25.5" fill="#000">(a)</text>
<text x="420.1" y="325.3" font-family="Liberation Serif" font-size="25.5" fill="#000">ECE</text>
<text x="482.3" y="325.3" font-family="Liberation Serif" font-size="25.5" fill="#000">and</text>
<text x="533.7" y="325.3" font-family="Liberation Serif" font-size="25.5" fill="#000">(b)</text>
<text x="577.6" y="325.3" font-family="Liberation Serif" font-size="25.5" fill="#000">MMC</text>
</svg>
</body></html>
